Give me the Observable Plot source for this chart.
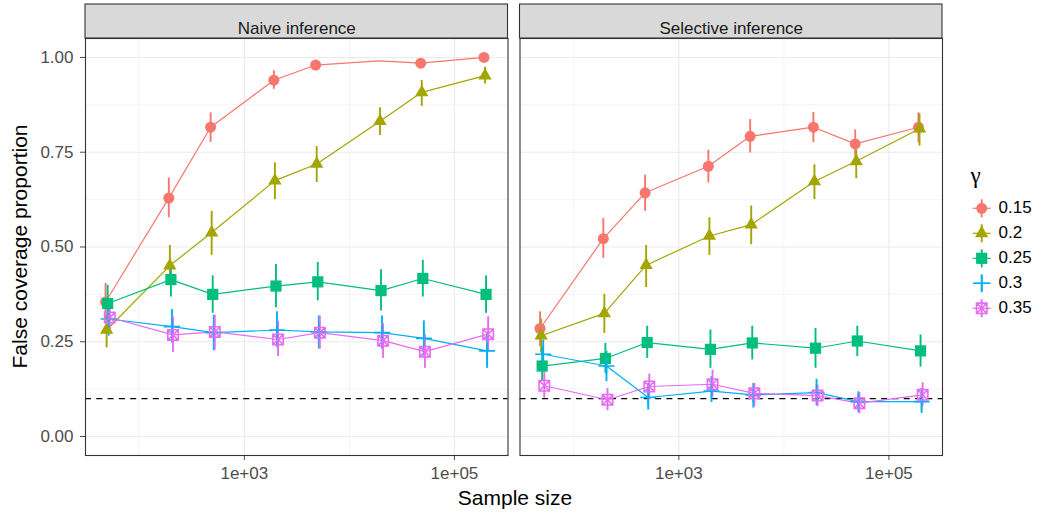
<!DOCTYPE html>
<html>
<head>
<meta charset="utf-8">
<script src="https://cdn.jsdelivr.net/npm/d3@7"></script>
<script src="https://cdn.jsdelivr.net/npm/@observablehq/plot@0.6"></script>
<style>
  body { margin: 0; background: #fff; }
  #chart { width: 1037px; height: 514px; }
</style>
</head>
<body>
<div id="chart"></div>
<script>
const FONT = "'Liberation Sans', Arial, Helvetica, sans-serif";

// ---- data ----
const sampleSizes = [50, 200, 500, 2000, 5000, 20000, 50000, 200000];
const gammaLevels = ["0.15", "0.2", "0.25", "0.3", "0.35"];
const methodLabels = ["Naive inference", "Selective inference"];
const gammaColors = ["#F8766D", "#A3A500", "#00BF7D", "#00B0F6", "#E76BF3"];
const xMajorTicks = [1e3, 1e5];
const xMinorTicks = [1e2, 1e4];
const yMajorTicks = [0, 0.25, 0.5, 0.75, 1];
const yMinorTicks = [0.125, 0.375, 0.625, 0.875];
const targetLevel = [0.1];

// Naive inference
const naive015   = [0.355, 0.629, 0.816, 0.940, 0.980, 0.991, 0.985, 1.000];
const naive015Lo = [0.310, 0.577, 0.776, 0.916, 0.968, 0.978, 0.972, 1.000];
const naive015Hi = [0.404, 0.682, 0.854, 0.965, 0.992, 1.004, 0.996, 1.000];
const naive020   = [0.281, 0.451, 0.538, 0.675, 0.719, 0.832, 0.908, 0.952];
const naive020Lo = [0.234, 0.400, 0.478, 0.625, 0.670, 0.794, 0.871, 0.930];
const naive020Hi = [0.328, 0.504, 0.594, 0.722, 0.765, 0.867, 0.939, 0.974];
const naive025   = [0.351, 0.414, 0.375, 0.397, 0.408, 0.385, 0.417, 0.375];
const naive025Lo = [0.300, 0.368, 0.325, 0.340, 0.358, 0.331, 0.368, 0.325];
const naive025Hi = [0.399, 0.454, 0.424, 0.454, 0.459, 0.440, 0.465, 0.424];
const naive030   = [0.310, 0.290, 0.274, 0.281, 0.276, 0.274, 0.259, 0.226];
const naive030Lo = [0.265, 0.247, 0.226, 0.235, 0.231, 0.230, 0.212, 0.180];
const naive030Hi = [0.355, 0.335, 0.320, 0.329, 0.318, 0.318, 0.305, 0.272];
const naive035   = [0.314, 0.268, 0.276, 0.256, 0.274, 0.253, 0.224, 0.270];
const naive035Lo = [0.270, 0.222, 0.228, 0.211, 0.230, 0.206, 0.180, 0.224];
const naive035Hi = [0.360, 0.316, 0.320, 0.304, 0.318, 0.298, 0.269, 0.316];

// Selective inference
const selective015   = [0.285, 0.522, 0.643, 0.713, 0.792, 0.816, 0.772, 0.816];
const selective015Lo = [0.237, 0.470, 0.594, 0.669, 0.748, 0.775, 0.737, 0.775];
const selective015Hi = [0.329, 0.575, 0.689, 0.755, 0.836, 0.855, 0.809, 0.854];
const selective020   = [0.266, 0.325, 0.452, 0.529, 0.559, 0.673, 0.726, 0.812];
const selective020Lo = [0.220, 0.272, 0.393, 0.478, 0.506, 0.625, 0.680, 0.766];
const selective020Hi = [0.310, 0.375, 0.504, 0.577, 0.608, 0.717, 0.756, 0.851];
const selective025   = [0.186, 0.206, 0.248, 0.230, 0.247, 0.233, 0.252, 0.226];
const selective025Lo = [0.145, 0.167, 0.206, 0.180, 0.202, 0.180, 0.211, 0.183];
const selective025Hi = [0.233, 0.246, 0.291, 0.281, 0.291, 0.285, 0.291, 0.268];
const selective030   = [0.217, 0.186, 0.103, 0.120, 0.110, 0.116, 0.092, 0.092];
const selective030Lo = [0.175, 0.145, 0.070, 0.090, 0.075, 0.081, 0.063, 0.061];
const selective030Hi = [0.254, 0.225, 0.140, 0.158, 0.140, 0.151, 0.118, 0.127];
const selective035   = [0.134, 0.097, 0.132, 0.138, 0.114, 0.108, 0.088, 0.110];
const selective035Lo = [0.101, 0.068, 0.097, 0.105, 0.079, 0.079, 0.060, 0.079];
const selective035Hi = [0.171, 0.127, 0.165, 0.175, 0.140, 0.136, 0.116, 0.142];

// ---- table built from the arrays ----
const seriesTable = {
  "Naive inference": [
    [naive015, naive015Lo, naive015Hi], [naive020, naive020Lo, naive020Hi],
    [naive025, naive025Lo, naive025Hi], [naive030, naive030Lo, naive030Hi],
    [naive035, naive035Lo, naive035Hi]
  ],
  "Selective inference": [
    [selective015, selective015Lo, selective015Hi], [selective020, selective020Lo, selective020Hi],
    [selective025, selective025Lo, selective025Hi], [selective030, selective030Lo, selective030Hi],
    [selective035, selective035Lo, selective035Hi]
  ]
};

const dodgeStep = 0.01; // log10 units between dodged groups
const rows = [];
methodLabels.forEach(m => {
  gammaLevels.forEach((g, gi) => {
    const [est, lo, hi] = seriesTable[m][gi];
    sampleSizes.forEach((n, j) => {
      rows.push({method: m, gamma: g, n, xd: n * Math.pow(10, (gi - 2) * dodgeStep),
                 est: est[j], lo: lo[j], hi: hi[j]});
    });
  });
});
// like ggplot with ylim(0, 1): pointranges out of limits are dropped
const yLimits = [0, 1];
const rangeRows = rows.filter(d => d.lo >= yLimits[0] && d.hi <= yLimits[1]);

// ---- symbols (ggplot shapes 16, 17, 15, 3, 7) ----
function mk(drawUnit) {
  return {draw(ctx, size) { const k = Math.sqrt(size / Math.PI) / 5; drawUnit(ctx, k); }};
}
const symCircle = mk((c, k) => { const r = 5.5 * k; c.moveTo(r, 0); c.arc(0, 0, r, 0, 2 * Math.PI); c.closePath(); });
const symTriangle = mk((c, k) => { const R = 7.7 * k, h = Math.sqrt(3) / 2;
  c.moveTo(0, -R); c.lineTo(R * h, R / 2); c.lineTo(-R * h, R / 2); c.closePath(); });
const symSquare = mk((c, k) => { const s = 5.6 * k; c.rect(-s, -s, 2 * s, 2 * s); });
const symPlus = mk((c, k) => { const a = 8 * k; c.moveTo(-a, 0); c.lineTo(a, 0); c.moveTo(0, -a); c.lineTo(0, a); });
const symSquareCross = mk((c, k) => { const s = 5.2 * k; c.rect(-s, -s, 2 * s, 2 * s);
  c.moveTo(-s, -s); c.lineTo(s, s); c.moveTo(s, -s); c.lineTo(-s, s); });
const shapeSpecs = [
  {sym: symCircle, filled: true},
  {sym: symTriangle, filled: true},
  {sym: symSquare, filled: true},
  {sym: symPlus, filled: false},
  {sym: symSquareCross, filled: false}
];

// ---- layout ----
const W = 1037, H = 514;
const mLeft = 85, mRight = 95, mTop = 38, mBottom = 59;
const xDomain = [Math.pow(10, 1.488), Math.pow(10, 5.51)];
const yDomain = [-0.05, 1.05];
const stripPx = 34;
const yTopStrip = yDomain[1] + stripPx * (yDomain[1] - yDomain[0]) / (H - mTop - mBottom);
const fmtPow = d => "1e+" + String(Math.round(Math.log10(d))).padStart(2, "0");

const pointMarks = gammaLevels.map((g, gi) => {
  const s = shapeSpecs[gi];
  return Plot.dot(rangeRows.filter(d => d.gamma === g), {
    fx: "method", x: "xd", y: "est", r: 5, symbol: s.sym,
    ...(s.filled ? {fill: "gamma", stroke: "none"} : {fill: "none", stroke: "gamma", strokeWidth: 1.6})
  });
});

const plot = Plot.plot({
  width: W, height: H,
  marginLeft: mLeft, marginRight: mRight, marginTop: mTop, marginBottom: mBottom,
  style: {fontFamily: FONT, fontSize: "17px", background: "#fff", color: "#4D4D4D", overflow: "visible"},
  fx: {domain: methodLabels, paddingInner: 0.0276, paddingOuter: 0, round: false, axis: null, label: null},
  x: {type: "log", domain: xDomain, ticks: xMajorTicks, tickFormat: fmtPow,
      tickSize: 5, tickPadding: 6, label: null, insetLeft: 0, insetRight: 0},
  y: {domain: yDomain, ticks: yMajorTicks, tickFormat: d3.format(".2f"), tickSize: 5, tickPadding: 7, label: null},
  color: {domain: gammaLevels, range: gammaColors},
  marks: [
    Plot.ruleX(xMinorTicks, {stroke: "#EBEBEB", strokeWidth: 0.55}),
    Plot.ruleY(yMinorTicks, {stroke: "#EBEBEB", strokeWidth: 0.55}),
    Plot.ruleX(xMajorTicks, {stroke: "#EBEBEB", strokeWidth: 1.1}),
    Plot.ruleY(yMajorTicks, {stroke: "#EBEBEB", strokeWidth: 1.1}),
    Plot.ruleY(targetLevel, {stroke: "#000", strokeWidth: 1.1, strokeDasharray: "6,5.3"}),
    Plot.line(rows, {fx: "method", x: "xd", y: "est", z: "gamma", stroke: "gamma", strokeWidth: 1.2}),
    Plot.ruleX(rangeRows, {fx: "method", x: "xd", y1: "lo", y2: "hi", stroke: "gamma", strokeWidth: 1.9}),
    ...pointMarks,
    Plot.frame({stroke: "#333333", strokeWidth: 1.1}),
    Plot.rect(methodLabels, {fx: d => d, x1: xDomain[0], x2: xDomain[1], y1: yDomain[1], y2: yTopStrip,
      fill: "#D9D9D9", stroke: "#333333", strokeWidth: 1.1}),
    Plot.text(methodLabels, {fx: d => d, text: d => d, frameAnchor: "top", dy: -stripPx / 2,
      fill: "#1A1A1A", fontSize: 17})
  ]
});

const svg = d3.select(plot);
svg.style("font-family", FONT);

// axis titles
svg.append("text")
  .attr("x", 515).attr("y", 505)
  .attr("text-anchor", "middle").attr("fill", "#000")
  .style("font-size", "21px").style("font-family", FONT)
  .text("Sample size");
svg.append("text")
  .attr("transform", `translate(26.5,${(mTop + (H - mBottom)) / 2}) rotate(-90)`)
  .attr("text-anchor", "middle").attr("fill", "#000")
  .style("font-size", "21px").style("font-family", FONT)
  .text("False coverage proportion");

// legend
const lg = svg.append("g").attr("text-anchor", "start");
lg.append("text").attr("x", 970.5).attr("y", 182.5).attr("fill", "#000").attr("text-anchor", "start")
  .style("font-size", "23px").style("font-family", "'Liberation Serif', 'DejaVu Serif', serif").text("γ");
gammaLevels.forEach((g, gi) => {
  const cy = 208.3 + 25 * gi, cx = 981.7, col = gammaColors[gi];
  const s = shapeSpecs[gi];
  const e = lg.append("g");
  e.append("line").attr("x1", cx - 9).attr("x2", cx + 9).attr("y1", cy).attr("y2", cy)
    .attr("stroke", col).attr("stroke-width", 1.2);
  e.append("line").attr("x1", cx).attr("x2", cx).attr("y1", cy - 9).attr("y2", cy + 9)
    .attr("stroke", col).attr("stroke-width", 1.9);
  const p = e.append("path").attr("transform", `translate(${cx},${cy})`)
    .attr("d", d3.symbol().type(s.sym).size(Math.PI * 25)());
  if (s.filled) p.attr("fill", col).attr("stroke", "none");
  else p.attr("fill", "none").attr("stroke", col).attr("stroke-width", 1.6);
  e.append("text").attr("x", 998.5).attr("y", cy).attr("dy", "0.3em").attr("fill", "#000")
    .attr("text-anchor", "start")
    .style("font-size", "17px").style("font-family", FONT).text(g);
});

document.getElementById("chart").appendChild(plot);
</script>
</body>
</html>
